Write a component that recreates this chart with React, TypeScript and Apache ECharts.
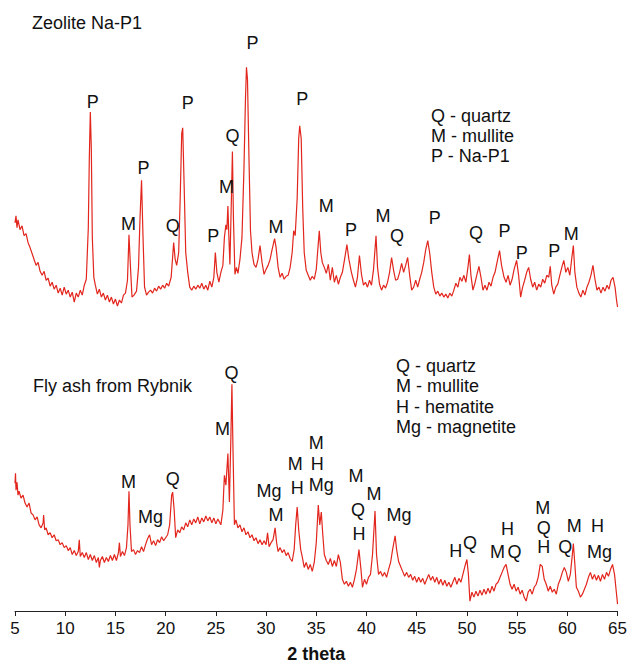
import React, { useEffect, useRef } from "react";
import * as echarts from "echarts";

// 2θ tick labels
const thetaTicks = [5, 10, 15, 20, 25, 30, 35, 40, 45, 50, 55, 60, 65];

// Zeolite Na-P1 pattern: [2θ, intensity a.u.] (plotted with a vertical offset)
const zeoliteOffset = 287;
const zeoliteData: [number, number][] = [
  [5.0, 105], [5.1, 112], [5.2, 100], [5.3, 108], [5.5, 98], [5.7, 102], [5.9, 92], [6.1, 94],
  [6.3, 85], [6.5, 80], [6.7, 74], [6.9, 68], [7.1, 62], [7.3, 65], [7.5, 56], [7.7, 52],
  [7.9, 56], [8.1, 47], [8.3, 49], [8.5, 41], [8.7, 45], [8.9, 38], [9.1, 42], [9.3, 34],
  [9.5, 39], [9.7, 32], [9.9, 40], [10.1, 33], [10.3, 37], [10.5, 30], [10.7, 35], [10.9, 25],
  [11.1, 34], [11.3, 30], [11.5, 37], [11.7, 32], [11.9, 42], [12.1, 48], [12.3, 100], [12.4, 170],
  [12.5, 217], [12.6, 180], [12.7, 90], [12.85, 50], [13.0, 42], [13.2, 33], [13.4, 38], [13.6, 30],
  [13.8, 34], [14.0, 27], [14.2, 32], [14.4, 25], [14.6, 30], [14.8, 23], [15.0, 28], [15.2, 21],
  [15.4, 27], [15.6, 24], [15.8, 32], [16.0, 34], [16.2, 47], [16.35, 93], [16.5, 60], [16.65, 30],
  [16.85, 32], [17.1, 36], [17.3, 60], [17.45, 110], [17.6, 148], [17.75, 90], [17.9, 40], [18.1, 32],
  [18.3, 35], [18.5, 37], [18.7, 34], [18.9, 39], [19.1, 36], [19.3, 41], [19.5, 38], [19.7, 42],
  [19.9, 39], [20.1, 44], [20.3, 41], [20.55, 50], [20.8, 85], [20.95, 68], [21.1, 62], [21.3, 75],
  [21.45, 130], [21.6, 195], [21.7, 201], [21.85, 140], [22.0, 75], [22.2, 55], [22.4, 40], [22.6, 37],
  [22.8, 41], [23.0, 38], [23.2, 42], [23.4, 39], [23.6, 44], [23.8, 38], [24.0, 42], [24.2, 37],
  [24.4, 46], [24.6, 40], [24.8, 50], [24.95, 75], [25.1, 55], [25.3, 45], [25.5, 55], [25.7, 62],
  [25.85, 90], [26.0, 103], [26.1, 98], [26.2, 122], [26.3, 90], [26.4, 63], [26.55, 130], [26.65, 177],
  [26.75, 110], [26.9, 53], [27.05, 60], [27.2, 54], [27.4, 68], [27.6, 90], [27.8, 160], [27.95, 230],
  [28.05, 262], [28.15, 250], [28.3, 170], [28.45, 97], [28.6, 75], [28.8, 63], [29.0, 60], [29.2, 68],
  [29.4, 82], [29.6, 65], [29.8, 53], [30.0, 58], [30.2, 62], [30.4, 68], [30.6, 78], [30.85, 89],
  [31.0, 80], [31.2, 60], [31.4, 50], [31.6, 54], [31.8, 48], [32.0, 51], [32.2, 52], [32.4, 60],
  [32.6, 75], [32.75, 97], [32.9, 92], [33.1, 130], [33.25, 190], [33.35, 203], [33.5, 190], [33.65, 120],
  [33.8, 75], [34.0, 57], [34.2, 52], [34.4, 47], [34.6, 51], [34.8, 48], [35.0, 58], [35.3, 97],
  [35.45, 75], [35.6, 65], [35.8, 60], [36.0, 54], [36.2, 63], [36.4, 47], [36.6, 60], [36.8, 45],
  [37.0, 52], [37.2, 43], [37.4, 50], [37.6, 55], [37.85, 70], [38.05, 83], [38.25, 68], [38.5, 55],
  [38.7, 47], [38.9, 40], [39.1, 50], [39.3, 72], [39.5, 53], [39.7, 42], [39.9, 45], [40.1, 40],
  [40.3, 47], [40.5, 42], [40.7, 58], [40.95, 92], [41.1, 60], [41.3, 43], [41.5, 37], [41.7, 42],
  [41.9, 39], [42.1, 45], [42.3, 55], [42.5, 70], [42.7, 57], [42.9, 47], [43.1, 48], [43.3, 55],
  [43.5, 64], [43.7, 55], [43.9, 62], [44.1, 70], [44.3, 52], [44.5, 37], [44.7, 40], [44.9, 47],
  [45.1, 40], [45.3, 48], [45.5, 55], [45.7, 65], [45.9, 78], [46.1, 87], [46.3, 74], [46.5, 55],
  [46.7, 40], [46.9, 33], [47.1, 36], [47.3, 31], [47.5, 34], [47.7, 30], [47.9, 33], [48.1, 29],
  [48.3, 34], [48.5, 31], [48.7, 37], [48.9, 44], [49.1, 40], [49.3, 50], [49.5, 46], [49.7, 52],
  [49.9, 45], [50.1, 60], [50.25, 73], [50.4, 52], [50.6, 37], [50.8, 44], [51.0, 53], [51.2, 61],
  [51.4, 50], [51.6, 37], [51.8, 42], [52.0, 37], [52.2, 45], [52.4, 41], [52.6, 50], [52.8, 55],
  [53.0, 65], [53.25, 77], [53.45, 62], [53.7, 50], [53.9, 45], [54.1, 52], [54.3, 42], [54.5, 48],
  [54.7, 58], [54.95, 67], [55.15, 52], [55.35, 30], [55.55, 40], [55.75, 47], [55.95, 55], [56.15, 60],
  [56.35, 48], [56.55, 40], [56.75, 45], [56.95, 37], [57.15, 43], [57.35, 40], [57.55, 48], [57.75, 44],
  [57.95, 52], [58.15, 50], [58.3, 61], [58.45, 42], [58.65, 33], [58.85, 40], [59.05, 43], [59.25, 52],
  [59.45, 60], [59.65, 67], [59.85, 55], [60.05, 60], [60.25, 52], [60.45, 70], [60.6, 82], [60.75, 55],
  [60.95, 40], [61.15, 34], [61.35, 30], [61.55, 37], [61.75, 32], [61.95, 40], [62.15, 45], [62.35, 52],
  [62.55, 62], [62.75, 48], [62.95, 37], [63.15, 40], [63.35, 34], [63.55, 40], [63.75, 36], [63.95, 42],
  [64.15, 38], [64.35, 47], [64.55, 50], [64.75, 40], [64.9, 27], [65.0, 20],
];

// Fly ash from Rybnik pattern: [2θ, intensity a.u.]
const flyAshData: [number, number][] = [
  [5.0, 129], [5.05, 139], [5.1, 122], [5.2, 130], [5.3, 117], [5.4, 121], [5.6, 114], [5.8, 117],
  [6.0, 109], [6.2, 105], [6.4, 109], [6.6, 99], [6.8, 97], [7.0, 92], [7.2, 95], [7.4, 87],
  [7.6, 84], [7.8, 89], [7.85, 97], [7.95, 82], [8.1, 84], [8.3, 77], [8.5, 79], [8.7, 74],
  [8.9, 77], [9.1, 71], [9.3, 72], [9.5, 67], [9.7, 69], [9.9, 64], [10.1, 66], [10.3, 61],
  [10.5, 64], [10.7, 57], [10.9, 61], [11.1, 56], [11.3, 60], [11.4, 72], [11.5, 55], [11.7, 59],
  [11.9, 54], [12.1, 59], [12.3, 52], [12.5, 57], [12.7, 51], [12.9, 56], [13.1, 49], [13.3, 54],
  [13.4, 44], [13.5, 51], [13.7, 55], [13.9, 49], [14.1, 54], [14.3, 50], [14.5, 56], [14.7, 51],
  [14.9, 57], [15.1, 51], [15.3, 59], [15.4, 69], [15.5, 55], [15.7, 60], [15.9, 56], [16.1, 64],
  [16.25, 87], [16.35, 121], [16.45, 87], [16.6, 60], [16.8, 62], [17.0, 57], [17.2, 61], [17.4, 59],
  [17.6, 65], [17.8, 60], [18.0, 67], [18.2, 73], [18.4, 77], [18.6, 67], [18.8, 71], [19.0, 66],
  [19.2, 72], [19.4, 69], [19.6, 75], [19.8, 71], [20.0, 74], [20.2, 77], [20.4, 87], [20.6, 117],
  [20.7, 120], [20.85, 102], [21.0, 74], [21.2, 82], [21.4, 79], [21.6, 85], [21.8, 82], [22.0, 89],
  [22.2, 85], [22.4, 92], [22.6, 87], [22.8, 93], [23.0, 89], [23.2, 95], [23.4, 88], [23.6, 94],
  [23.8, 90], [24.0, 96], [24.2, 91], [24.4, 95], [24.6, 89], [24.8, 94], [25.0, 88], [25.2, 93],
  [25.5, 87], [25.7, 102], [25.85, 137], [26.0, 127], [26.2, 159], [26.35, 110], [26.5, 177], [26.6, 229],
  [26.7, 167], [26.85, 87], [27.0, 92], [27.2, 84], [27.4, 87], [27.6, 80], [27.8, 84], [28.0, 77],
  [28.2, 80], [28.4, 74], [28.6, 77], [28.8, 71], [29.0, 74], [29.2, 68], [29.4, 72], [29.6, 67],
  [29.8, 71], [30.0, 67], [30.15, 79], [30.3, 65], [30.5, 69], [30.7, 72], [30.9, 84], [31.05, 69],
  [31.2, 60], [31.4, 64], [31.6, 59], [31.8, 62], [32.0, 56], [32.2, 59], [32.4, 53], [32.6, 50],
  [32.8, 62], [32.95, 87], [33.1, 105], [33.25, 82], [33.45, 62], [33.6, 55], [33.8, 44], [34.0, 49],
  [34.2, 42], [34.4, 47], [34.6, 40], [34.8, 49], [35.0, 69], [35.2, 107], [35.35, 87], [35.5, 100],
  [35.65, 77], [35.8, 57], [36.0, 51], [36.2, 47], [36.4, 53], [36.6, 45], [36.8, 51], [37.0, 45],
  [37.2, 57], [37.4, 49], [37.6, 32], [37.8, 27], [38.0, 30], [38.2, 25], [38.4, 29], [38.6, 24],
  [38.8, 32], [39.0, 42], [39.25, 62], [39.45, 42], [39.6, 24], [39.8, 32], [40.0, 27], [40.2, 34],
  [40.4, 37], [40.6, 57], [40.85, 101], [41.0, 57], [41.2, 37], [41.4, 40], [41.6, 35], [41.8, 39],
  [42.0, 34], [42.2, 42], [42.4, 49], [42.6, 62], [42.85, 76], [43.0, 62], [43.2, 50], [43.4, 45],
  [43.6, 40], [43.8, 35], [44.0, 39], [44.2, 34], [44.4, 37], [44.6, 31], [44.8, 35], [45.0, 29],
  [45.2, 34], [45.4, 29], [45.6, 33], [45.8, 27], [46.0, 32], [46.2, 37], [46.4, 31], [46.6, 35],
  [46.8, 29], [47.0, 34], [47.2, 27], [47.4, 32], [47.6, 26], [47.8, 31], [48.0, 25], [48.2, 29],
  [48.4, 24], [48.6, 29], [48.8, 34], [49.0, 27], [49.2, 33], [49.4, 29], [49.6, 37], [49.85, 47],
  [50.0, 52], [50.15, 37], [50.3, 10], [50.5, 19], [50.7, 14], [50.9, 20], [51.1, 15], [51.3, 21],
  [51.5, 16], [51.7, 22], [51.9, 17], [52.1, 23], [52.3, 18], [52.5, 25], [52.7, 20], [52.9, 27],
  [53.1, 29], [53.3, 34], [53.5, 39], [53.7, 44], [53.9, 47], [54.1, 37], [54.3, 27], [54.5, 22],
  [54.7, 27], [54.9, 20], [55.1, 24], [55.3, 17], [55.5, 21], [55.7, 14], [55.9, 10], [56.1, 19],
  [56.3, 22], [56.5, 17], [56.7, 24], [56.9, 27], [57.1, 34], [57.3, 47], [57.5, 45], [57.7, 32],
  [57.9, 27], [58.1, 20], [58.3, 25], [58.5, 19], [58.7, 22], [58.9, 17], [59.1, 27], [59.3, 32],
  [59.5, 39], [59.7, 44], [59.9, 39], [60.1, 30], [60.3, 37], [60.5, 57], [60.6, 68], [60.75, 47],
  [60.9, 24], [61.1, 20], [61.3, 14], [61.5, 17], [61.7, 22], [61.9, 27], [62.1, 34], [62.3, 39],
  [62.5, 32], [62.7, 37], [62.9, 31], [63.1, 36], [63.3, 30], [63.5, 37], [63.7, 32], [63.9, 39],
  [64.1, 35], [64.3, 42], [64.5, 47], [64.7, 37], [64.85, 22], [65.0, 7],
];

// Phase labels: [2θ, intensity, label]
const zeoliteLabels: [number, number, string][] = [
  [12.75, 227, "P"], [16.3, 104, "M"], [17.8, 160, "P"], [20.7, 102, "Q"], [22.2, 226, "P"],
  [24.75, 92, "P"], [26.05, 141, "M"], [26.65, 193, "Q"], [28.65, 287, "P"], [31.0, 101, "M"],
  [33.6, 230, "P"], [36.0, 122, "M"], [38.45, 98, "P"], [41.65, 112, "M"], [43.05, 92, "Q"],
  [46.8, 110, "P"], [50.9, 95, "Q"], [53.75, 97, "P"], [55.45, 75, "P"], [58.7, 77, "P"],
  [60.4, 94, "M"],
];

const flyAshLabels: [number, number, string][] = [
  [16.3, 130, "M"], [18.5, 95, "Mg"], [20.7, 133, "Q"], [25.65, 184, "M"], [26.55, 240, "Q"],
  [30.3, 121, "Mg"], [31.0, 97, "M"], [32.9, 148, "M"], [33.1, 124, "H"], [35.0, 170, "M"],
  [35.1, 148, "H"], [35.5, 127, "Mg"], [38.95, 136, "M"], [39.15, 102, "Q"], [39.25, 78, "H"],
  [40.75, 118, "M"], [43.25, 97, "Mg"], [48.9, 61, "H"], [50.3, 69, "Q"], [53.05, 60, "M"],
  [54.05, 83, "H"], [54.75, 60, "Q"], [57.55, 104, "M"], [57.65, 84, "Q"], [57.65, 65, "H"],
  [59.8, 65, "Q"], [60.7, 86, "M"], [63.0, 86, "H"], [63.2, 60, "Mg"],
];

const zeoliteLegend = ["Q - quartz", "M - mullite", "P - Na-P1"];
const flyAshLegend = ["Q - quartz", "M - mullite", "H - hematite", "Mg - magnetite"];

const FONT = "'Liberation Sans', Arial, Helvetica, sans-serif";
const RED = "#e2261d";
const INK = "#111111";

export default function App() {
  const ref = useRef<HTMLDivElement>(null);

  useEffect(() => {
    if (!ref.current) return;
    const chart = echarts.init(ref.current, undefined, { renderer: "svg" });

    const labelSeries = (data: [number, number, string][], offset: number) => ({
      type: "scatter",
      silent: true,
      symbolSize: 1,
      itemStyle: { color: "rgba(0,0,0,0)", opacity: 1 },
      data: data.map(([x, y, t]) => ({ value: [x, y + offset], name: t })),
      label: {
        show: true,
        position: "inside",
        formatter: (p: any) => p.name,
        fontFamily: FONT,
        fontSize: 18,
        color: INK,
        opacity: 1,
      },
      z: 5,
    });

    const textLines = (lines: string[], left: number, top: number, step: number) =>
      lines.map((t, i) => ({
        type: "text",
        left,
        top: top + i * step,
        style: { text: t, fontFamily: FONT, fontSize: 18, fill: INK },
      }));

    chart.setOption({
      animation: false,
      backgroundColor: "#ffffff",
      grid: { left: 15, right: 11, top: 0, bottom: 51 },
      xAxis: {
        type: "value",
        min: thetaTicks[0],
        max: thetaTicks[thetaTicks.length - 1],
        interval: 5,
        axisLine: { show: true, lineStyle: { color: "#222", width: 1 } },
        axisTick: { show: true, length: 5, lineStyle: { color: "#222" } },
        splitLine: { show: false },
        axisLabel: { fontFamily: FONT, fontSize: 17, color: INK, margin: 9 },
        name: "2 theta",
        nameLocation: "middle",
        nameGap: 34,
        nameTextStyle: { fontFamily: FONT, fontSize: 18, fontWeight: "bold", color: INK },
      },
      yAxis: { type: "value", min: 0, max: 617, show: false },
      series: [
        {
          type: "line",
          data: zeoliteData.map(([x, y]) => [x, y + zeoliteOffset]),
          showSymbol: false,
          lineStyle: { color: RED, width: 1.2 },
          silent: true,
        },
        {
          type: "line",
          data: flyAshData,
          showSymbol: false,
          lineStyle: { color: RED, width: 1.2 },
          silent: true,
        },
        labelSeries(zeoliteLabels, zeoliteOffset),
        labelSeries(flyAshLabels, 0),
      ],
      graphic: [
        {
          type: "text",
          left: 32,
          top: 14,
          style: { text: "Zeolite Na-P1", fontFamily: FONT, fontSize: 18, fill: INK },
        },
        {
          type: "text",
          left: 33,
          top: 377,
          style: { text: "Fly ash from Rybnik", fontFamily: FONT, fontSize: 18, fill: INK },
        },
        ...textLines(zeoliteLegend, 431, 107, 20),
        ...textLines(flyAshLegend, 396, 357, 20.3),
      ],
    });

    return () => chart.dispose();
  }, []);

  return (
    <div
      ref={ref}
      style={{ position: "fixed", left: 0, top: 0, width: 630, height: 668, background: "#fff" }}
    />
  );
}
